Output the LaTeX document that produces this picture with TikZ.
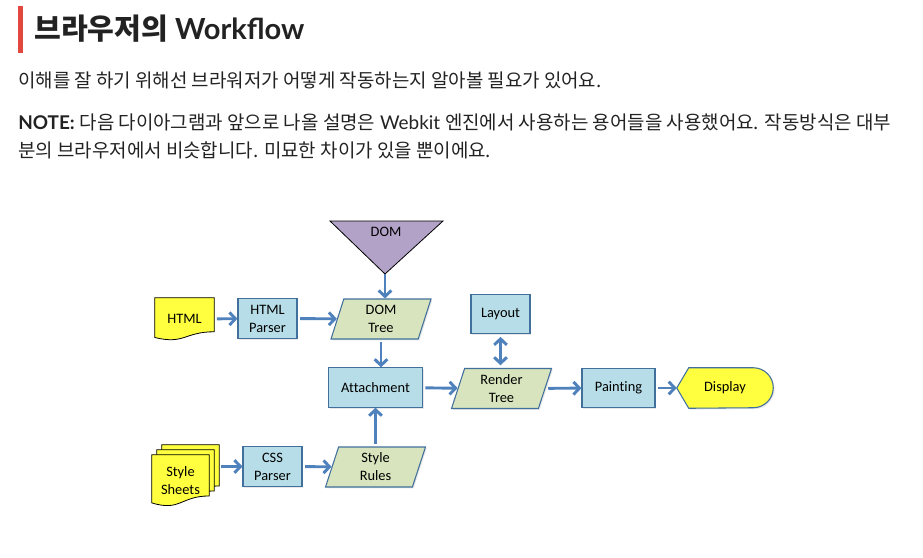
\documentclass[tikz,border=0pt]{standalone}
\usepackage{fontspec}
\setmainfont{Lato}
\newfontfamily\krfont{Noto Sans CJK KR}
\newfontfamily\calfont{Carlito}[Ligatures=NoCommon]
\usetikzlibrary{arrows.meta,positioning,calc,shapes.geometric,shadows,backgrounds}
\definecolor{wfInk}{HTML}{222222}
\definecolor{wfRed}{HTML}{E2483D}
\definecolor{wfArrow}{HTML}{4F81BD}
\definecolor{wfEdge}{HTML}{41709C}
\definecolor{wfBlue}{HTML}{B7DEE8}
\definecolor{wfGreen}{HTML}{D7E4BD}
\definecolor{wfPurple}{HTML}{B3A2C7}
\definecolor{wfYellow}{HTML}{FFFF40}
\newcommand{\wfdoc}[2][]{%
  \draw[docbox,#1] (#2.north west) -- (#2.north east)
    -- ($(#2.north east)!.8!(#2.south east)$)
    .. controls ($(#2.north)!.8!(#2.south)$) and ($(#2.north)!1.107!(#2.south)$)
    .. ($(#2.north west)!.934!(#2.south west)$) -- cycle;}

\begin{document}
\begin{tikzpicture}[
  x=.75pt,y=-.75pt,
  >={Straight Barb[length=4.5pt,width=9.5pt]},
  para/.style={anchor=base west,inner sep=0pt,text=wfInk,font=\fontsize{14.2}{17}\selectfont},
  wftext/.style={inner sep=0pt,align=center,text=black,font=\calfont\fontsize{10.8}{13.5}\selectfont},
  procbox/.style={wftext,draw=wfEdge,fill=wfBlue,line width=.8pt,minimum height=29.5pt,
    drop shadow={shadow xshift=1pt,shadow yshift=-1pt,opacity=.18}},
  databox/.style={procbox,trapezium,trapezium left angle=65,trapezium right angle=115,
    trapezium stretches body,fill=wfGreen,minimum width=75pt,minimum height=30pt},
  docnode/.style={wftext,minimum width=44.25pt,minimum height=31.5pt},
  docbox/.style={draw=black,fill=wfYellow,line width=.6pt},
  dispbox/.style={draw=wfEdge,fill=wfYellow,line width=.8pt,
    drop shadow={shadow xshift=1pt,shadow yshift=-1pt,opacity=.18}},
  flowline/.style={draw=wfArrow,line width=2.2pt,shorten <=2pt,->}
]
  \useasboundingbox (0,0) rectangle (923,557);
  % heading and text
  \fill[wfRed] (18,6) rectangle (23,53);
  \node[para,font={\bfseries\fontsize{21.8}{25}\selectfont}] (title) at (34,39.5)
    {{\krfont 브라우저의} Workflow};
  \node[para] (line1) at (18,87)
    {\krfont 이해를 잘 하기 위해선 브라워저가 어떻게 작동하는지 알아볼 필요가 있어요.};
  \node[para] (line2) at (18,129)
    {\textbf{NOTE:} {\krfont 다음 다이아그램과 앞으로 나올 설명은} Webkit {\krfont 엔진에서 사용하는 용어들을 사용했어요. 작동방식은 대부}};
  \node[para] (line3) at (18,157)
    {\krfont 분의 브라우저에서 비슷합니다. 미묘한 차이가 있을 뿐이에요.};

  % diagram
  \coordinate (domtip) at (385,274);
  \draw[draw=black,fill=wfPurple,line width=.6pt] (330,221) -- (443,221) -- (domtip) -- cycle;
  \node[wftext] (dom) at (386,232) {DOM};
  \node[docnode] (html) at (184.5,319) {HTML};
  \node[procbox,minimum width=44.25pt] (hparser) at (267.5,318.5) {HTML\\Parser};
  \node[databox] (domtree) at (381,319) {DOM\\Tree};
  \node[procbox,minimum width=44.25pt] (layout) at (500.5,314) {Layout};
  \node[procbox,minimum width=70pt] (attach) at (375.5,387.5) {Attachment};
  \node[databox] (render) at (501.5,388.5) {Render\\Tree};
  \node[procbox,minimum width=54.75pt] (paint) at (618.5,388) {Painting};
  \node[docnode,minimum width=72pt,minimum height=30pt] (disp) at (725,388) {Display};
  \node[docnode,minimum width=42.75pt,minimum height=38.25pt] (sheets) at (180.5,480.5) {Style\\Sheets};
  \node[procbox,minimum width=44.25pt] (cssp) at (272.5,466.5) {CSS\\Parser};
  \node[databox] (rules) at (375.5,467) {Style\\Rules};

  \begin{scope}[on background layer]
    \wfdoc{html}
    \wfdoc[transform canvas={shift={(7.5pt,7.5pt)}}]{sheets}
    \wfdoc[transform canvas={shift={(3.75pt,3.75pt)}}]{sheets}
    \wfdoc{sheets}
    \draw[dispbox] (disp.west) -- ($(disp.north west)+(12,0)$) -- ($(disp.north east)+(-20,0)$)
      arc[start angle=-90,end angle=90,radius=20] -- ($(disp.south west)+(12,0)$) -- cycle;
  \end{scope}

  \draw[flowline,shorten <=0pt] (domtip) -- (domtip |- domtree.north);
  \draw[flowline] (html) -- (hparser);
  \draw[flowline] (hparser) -- (domtree);
  \draw[flowline] (domtree.south) -- (domtree.south |- attach.north);
  \draw[flowline] (rules.north) -- (rules.north |- attach.south);
  \draw[flowline] (attach) -- (render);
  \draw[flowline,shorten >=2pt,<->] (layout.south) -- (layout.south |- render.north);
  \draw[flowline] (render) -- (paint);
  \draw[flowline] (paint) -- (disp.west);
  \draw[flowline,shorten <=9pt] (cssp.west -| sheets.east) -- (cssp.west);
  \draw[flowline] (cssp) -- (rules);
\end{tikzpicture}
\end{document}
